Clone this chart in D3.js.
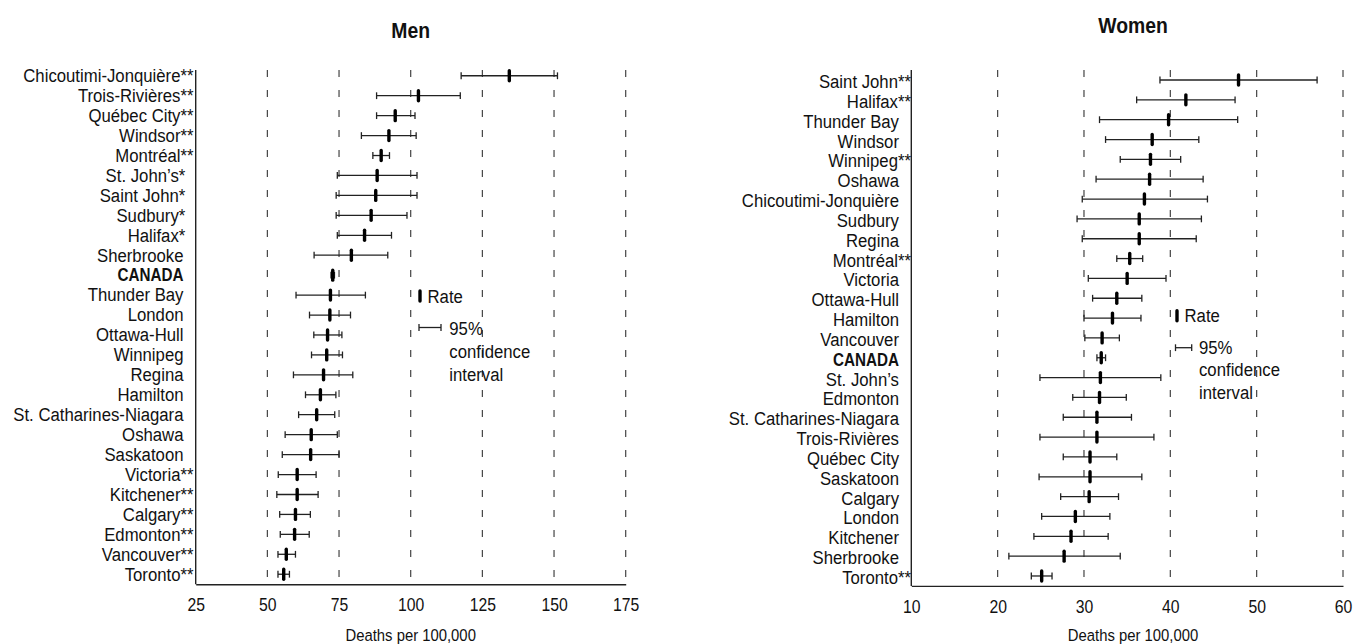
<!DOCTYPE html>
<html>
<head>
<meta charset="utf-8">
<script src="https://cdn.jsdelivr.net/npm/d3@7"></script>
<style>
  html, body { margin: 0; padding: 0; background: #fff; }
  svg { display: block; }
  text { font-family: "Liberation Sans", Arial, sans-serif; fill: #111; }
</style>
</head>
<body>
<svg id="chart" width="1353" height="644"></svg>
<script>
// ---------- DATA ----------
const menNames = ["Chicoutimi-Jonquière","Trois-Rivières","Québec City","Windsor","Montréal","St. John’s","Saint John","Sudbury","Halifax","Sherbrooke","CANADA","Thunder Bay","London","Ottawa-Hull","Winnipeg","Regina","Hamilton","St. Catharines-Niagara","Oshawa","Saskatoon","Victoria","Kitchener","Calgary","Edmonton","Vancouver","Toronto"];
const menStars = ["**","**","**","**","**","*","*","*","*","","","","","","","","","","","","**","**","**","**","**","**"];
const menRate = [134.4,102.7,94.6,92.4,89.7,88.3,87.8,86.2,83.9,79.3,72.8,72.0,71.8,71.0,70.7,69.6,68.5,67.2,65.3,65.1,60.4,60.4,59.8,59.5,56.6,55.7];
const menLow  = [117.6,88.1,88.1,82.8,86.8,74.4,74.0,74.0,74.4,66.3,72.2,60.0,64.7,66.2,65.4,59.1,63.3,60.9,56.2,55.2,53.8,53.3,54.3,54.5,53.7,53.7];
const menHigh = [151.2,117.3,101.5,101.9,92.6,102.2,102.2,98.7,93.3,92.0,73.4,84.2,79.0,76.0,76.2,79.8,73.9,73.5,74.4,75.0,67.0,67.7,65.0,64.6,59.8,57.7];
const menTicks = [25,50,75,100,125,150,175];

const womenNames = ["Saint John","Halifax","Thunder Bay","Windsor","Winnipeg","Oshawa","Chicoutimi-Jonquière","Sudbury","Regina","Montréal","Victoria","Ottawa-Hull","Hamilton","Vancouver","CANADA","St. John’s","Edmonton","St. Catharines-Niagara","Trois-Rivières","Québec City","Saskatoon","Calgary","London","Kitchener","Sherbrooke","Toronto"];
const womenStars = ["**","**","","","**","","","","","**","","","","","","","","","","","","","","","","**"];
const womenRate = [47.9,41.8,39.8,37.9,37.7,37.6,37.0,36.4,36.4,35.3,35.0,33.8,33.3,32.1,32.0,31.9,31.8,31.5,31.5,30.7,30.7,30.6,29.0,28.5,27.7,25.1];
const womenLow  = [38.8,36.1,31.8,32.5,34.2,31.4,29.8,29.2,29.8,33.8,30.5,31.0,30.0,30.1,31.5,24.9,28.7,27.6,24.9,27.6,24.8,27.3,25.1,24.2,21.3,23.9];
const womenHigh = [57.0,47.5,47.8,43.3,41.2,43.8,44.3,43.6,43.0,36.8,39.5,36.7,36.6,34.1,32.5,38.9,34.9,35.5,38.1,33.8,36.7,34.0,33.0,32.8,34.2,26.3];
const womenTicks = [10,20,30,40,50,60];

// ---------- DRAW ----------
const svg = d3.select("#chart");
const SX = 0.9; // horizontal condensing of the narrow font

function panel(cfg) {
  const g = svg.append("g");
  const rows = cfg.names.map((n, i) => i);
  const x = d3.scaleLinear().domain(cfg.domain).range(cfg.xRange);
  const y = d3.scaleBand().domain(rows).range(cfg.yRange).padding(0);
  const cy = i => y(i) + y.bandwidth() / 2;

  // dashed gridlines
  g.selectAll(".grid").data(cfg.ticks.slice(1)).enter().append("line")
    .attr("x1", d => x(d)).attr("x2", d => x(d))
    .attr("y1", cfg.gridTop).attr("y2", cfg.yRange[1])
    .attr("stroke", "#444").attr("stroke-width", 1.2)
    .attr("stroke-dasharray", "7,13");

  // x axis
  const ax = g.append("g").attr("transform", `translate(0,${cfg.yRange[1]})`)
    .call(d3.axisBottom(x).tickValues(cfg.ticks).tickSize(0).tickFormat(d3.format("d")));
  ax.select(".domain").attr("stroke", "#222").attr("stroke-width", 1.4);
  ax.selectAll(".tick text")
    .attr("y", 27).attr("dy", 0)
    .attr("transform", `scale(${SX},1)`)
    .style("font-family", "'Liberation Sans', Arial, sans-serif")
    .style("font-size", "17.5px").attr("fill", "#111");

  // y axis line
  g.append("line")
    .attr("x1", x(cfg.domain[0])).attr("x2", x(cfg.domain[0]))
    .attr("y1", cfg.gridTop).attr("y2", cfg.yRange[1])
    .attr("stroke", "#222").attr("stroke-width", 1.4);

  // labels
  g.selectAll(".lab").data(rows).enter().append("text")
    .attr("transform", i => `translate(${cfg.labelEnd[cfg.stars[i].length]},${cy(i) + cfg.labelDy}) scale(${cfg.names[i] === "CANADA" ? 0.82 : SX},1)`)
    .attr("text-anchor", "end")
    .style("font-size", "18.6px")
    .style("font-weight", i => cfg.names[i] === "CANADA" ? "bold" : "normal")
    .text(i => cfg.names[i] + cfg.stars[i]);

  // CI whiskers
  const ci = g.selectAll(".ci").data(rows).enter().append("g");
  ci.append("line")
    .attr("x1", i => x(cfg.low[i])).attr("x2", i => x(cfg.high[i]))
    .attr("y1", cy).attr("y2", cy)
    .attr("stroke", "#222").attr("stroke-width", 1.3);
  ci.append("line")
    .attr("x1", i => x(cfg.low[i])).attr("x2", i => x(cfg.low[i]))
    .attr("y1", i => cy(i) - 3.4).attr("y2", i => cy(i) + 3.4)
    .attr("stroke", "#222").attr("stroke-width", 1.3);
  ci.append("line")
    .attr("x1", i => x(cfg.high[i])).attr("x2", i => x(cfg.high[i]))
    .attr("y1", i => cy(i) - 3.4).attr("y2", i => cy(i) + 3.4)
    .attr("stroke", "#222").attr("stroke-width", 1.3);

  // rate markers
  g.selectAll(".rate").data(rows).enter().append("line")
    .attr("x1", i => x(cfg.rate[i])).attr("x2", i => x(cfg.rate[i]))
    .attr("y1", i => cy(i) - 5).attr("y2", i => cy(i) + 5)
    .attr("stroke", "#000").attr("stroke-width", 3.4).attr("stroke-linecap", "round");

  // title
  g.append("text")
    .attr("transform", `translate(${cfg.titleX},${cfg.titleY}) scale(${SX},1)`)
    .attr("text-anchor", "middle")
    .style("font-size", "21.5px").style("font-weight", "bold")
    .text(cfg.title);

  // axis title
  g.append("text")
    .attr("transform", `translate(${cfg.titleX},641) scale(${SX},1)`)
    .attr("text-anchor", "middle")
    .style("font-size", "16.5px")
    .text("Deaths per 100,000");

  // legend
  const L = cfg.legend;
  g.append("line")
    .attr("x1", L.rx).attr("x2", L.rx).attr("y1", L.ry - 5).attr("y2", L.ry + 5)
    .attr("stroke", "#000").attr("stroke-width", 3.4).attr("stroke-linecap", "round");
  g.append("text").attr("transform", `translate(${L.rx + 7.5},${L.ry + 6.5}) scale(${SX},1)`)
    .style("font-size", "18.6px").text("Rate");
  g.append("line").attr("x1", L.cx1).attr("x2", L.cx2).attr("y1", L.cy).attr("y2", L.cy)
    .attr("stroke", "#222").attr("stroke-width", 1.3);
  [L.cx1, L.cx2].forEach(xx => g.append("line").attr("x1", xx).attr("x2", xx)
    .attr("y1", L.cy - 3.4).attr("y2", L.cy + 3.4).attr("stroke", "#222").attr("stroke-width", 1.3));
  ["95%", "confidence", "interval"].forEach((t, k) => {
    g.append("text").attr("transform", `translate(${L.tx},${L.ty + k * L.lh}) scale(${SX},1)`)
      .style("font-size", "18.6px").text(t);
  });
}

panel({
  names: menNames, stars: menStars, rate: menRate, low: menLow, high: menHigh,
  ticks: menTicks, domain: [25, 175], xRange: [195.7, 625.7], yRange: [65.8, 584.2],
  gridTop: 70, labelEnd: [183.5, 185.3, 193.5], labelDy: 6.3,
  title: "Men", titleX: 410.7, titleY: 37.5,
  legend: { rx: 420, ry: 296, cx1: 419, cx2: 441, cy: 327.5, tx: 449.3, ty: 334.5, lh: 23 }
});

panel({
  names: womenNames, stars: womenStars, rate: womenRate, low: womenLow, high: womenHigh,
  ticks: womenTicks, domain: [10, 60], xRange: [911.3, 1343], yRange: [70.1, 585.9],
  gridTop: 70, labelEnd: [899, 905, 911], labelDy: 8,
  title: "Women", titleX: 1133, titleY: 32.5,
  legend: { rx: 1177, ry: 315.7, cx1: 1175.5, cx2: 1191.7, cy: 347.7, tx: 1199, ty: 353.5, lh: 22.5 }
});
</script>
</body>
</html>
